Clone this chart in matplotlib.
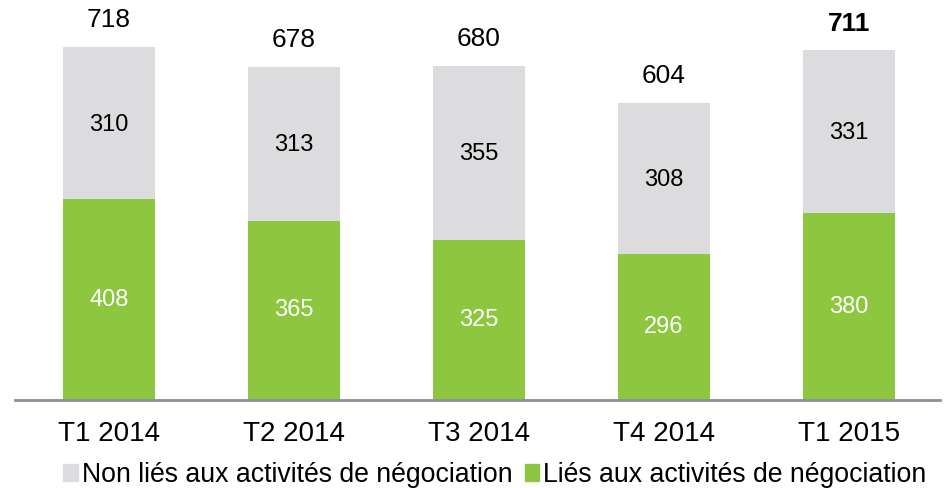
import matplotlib.pyplot as plt
from matplotlib.patches import Patch

plt.rcParams["font.family"] = ["Liberation Sans", "DejaVu Sans"]

quarters = ["T1 2014", "T2 2014", "T3 2014", "T4 2014", "T1 2015"]
trading = [408, 365, 325, 296, 380]
non_trading = [310, 313, 355, 308, 331]
totals = [718, 678, 680, 604, 711]

GREEN = "#8dc63f"
GREY = "#dcdcde"

fig = plt.figure(figsize=(9.48, 4.88), dpi=100)
ax = fig.add_axes([15 / 948, 88 / 488, 925 / 948, 400 / 488])

x = range(len(quarters))
ax.bar(x, trading, width=0.5, color=GREEN)
ax.bar(x, non_trading, width=0.5, bottom=trading, color=GREY)

for i in x:
    ax.text(i, trading[i] / 2, str(trading[i]), ha="center", va="center",
            color="white", fontsize=17)
    ax.text(i, trading[i] + non_trading[i] / 2 - 3, str(non_trading[i]),
            ha="center", va="center", color="black", fontsize=17)
    ax.text(i, totals[i] + 54, str(totals[i]), ha="center", va="center",
            color="black", fontsize=19,
            fontweight="bold" if i == len(quarters) - 1 else "normal")

ax.set_xlim(-0.508, 4.492)
ax.set_ylim(0, 813.6)
ax.set_xticks(list(x))
ax.set_xticklabels(quarters, fontsize=20)
ax.tick_params(axis="x", length=0, pad=15)
ax.set_yticks([])
for side in ["left", "right", "top"]:
    ax.spines[side].set_visible(False)
ax.spines["bottom"].set_color("#8a9099")
ax.spines["bottom"].set_linewidth(2)

handles = [Patch(color=GREY, label="Non liés aux activités de négociation"),
           Patch(color=GREEN, label="Liés aux activités de négociation")]
fig.legend(handles=handles, loc="center", bbox_to_anchor=(0.522, 0.027),
           ncol=2, frameon=False, fontsize=19.2, handlelength=0.56,
           handleheight=0.56, handletextpad=0.15, columnspacing=0.45,
           borderaxespad=0, borderpad=0)

fig.savefig("out.png", dpi=100)
